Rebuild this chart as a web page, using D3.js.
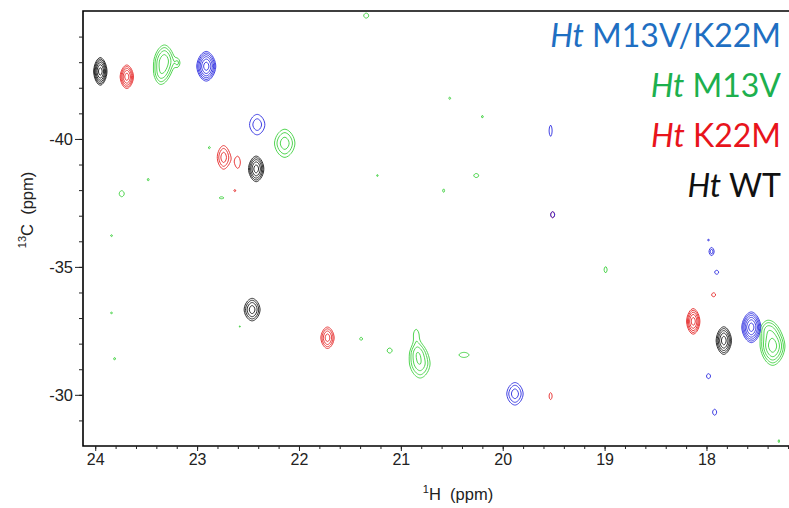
<!DOCTYPE html>
<html><head><meta charset="utf-8">
<script src="https://cdn.jsdelivr.net/npm/d3@7"></script>
<style>body{margin:0;background:#fff}svg{display:block}text{white-space:pre}</style>
</head><body>
<svg id="c" width="789" height="508"></svg>
<script>
// ---- axes data ----
const hDomain = [24.12, 17.19];     // 1H ppm (left -> right)
const cDomain = [-45, -28];         // 13C ppm (top -> bottom)
const xMajor = [24, 23, 22, 21, 20, 19, 18];
const yMajor = [-40, -35, -30];
const xMinor = d3.range(0, 36).map(i => +(24 - i * 0.2).toFixed(1)).filter(v => v >= 17.2);
const yMinor = d3.range(-44, -28, 1);

// ---- peak lists: [1H ppm, 13C ppm, outer half-width 1H, outer half-width 13C, contour levels] ----
const wtPeaks = [
  [23.95, -42.64, 0.065, 0.54, 6],
  [22.42, -38.83, 0.075, 0.50, 5],
  [22.46, -33.33, 0.078, 0.44, 4],
  [17.83, -32.12, 0.075, 0.54, 5]
];
const k22mPeaks = [
  [23.69, -42.43, 0.065, 0.46, 5],
  [22.74, -39.28, 0.062, 0.46, 3],
  [22.60, -39.08, 0.024, 0.22, 1],
  [21.72, -32.23, 0.065, 0.42, 4],
  [18.13, -32.87, 0.065, 0.50, 5],
  [17.93, -33.91, 0.020, 0.08, 1],
  [19.53, -29.95, 0.015, 0.14, 1],
  [19.51, -37.04, 0.020, 0.12, 1],
  [22.63, -37.98, 0.010, 0.04, 1]
];
const m13vPeaks = [
  [23.32, -43.05, 0.095, 0.62, 4],
  [23.36, -42.55, 0.050, 0.35, 2],
  [23.19, -42.97, 0.015, 0.10, 1],
  [22.14, -39.83, 0.100, 0.55, 3],
  [22.88, -39.66, 0.010, 0.05, 1],
  [23.48, -38.41, 0.010, 0.05, 1],
  [23.74, -37.86, 0.025, 0.12, 1],
  [22.76, -37.70, 0.025, 0.04, 1],
  [23.84, -36.22, 0.010, 0.04, 1],
  [23.84, -33.20, 0.010, 0.04, 1],
  [23.81, -31.41, 0.010, 0.05, 1],
  [22.58, -32.67, 0.008, 0.03, 1],
  [21.34, -44.82, 0.025, 0.10, 1],
  [20.52, -41.59, 0.010, 0.05, 1],
  [20.20, -40.87, 0.010, 0.05, 1],
  [21.23, -38.57, 0.008, 0.04, 1],
  [20.26, -38.57, 0.025, 0.08, 1],
  [20.58, -37.98, 0.010, 0.07, 1],
  [18.99, -34.89, 0.015, 0.12, 1],
  [21.39, -32.19, 0.015, 0.06, 1],
  [21.11, -31.73, 0.025, 0.10, 1],
  [20.85, -32.38, 0.020, 0.16, 1],
  [20.81, -31.21, 0.095, 0.55, 3],
  [20.84, -31.65, 0.050, 0.30, 2],
  [20.38, -31.56, 0.050, 0.10, 1],
  [17.35, -31.90, 0.120, 0.75, 5],
  [17.40, -32.55, 0.060, 0.30, 2],
  [17.29, -28.19, 0.008, 0.06, 1]
];
const dblPeaks = [
  [22.91, -42.84, 0.093, 0.58, 6],
  [22.41, -40.56, 0.075, 0.40, 2],
  [19.53, -40.32, 0.015, 0.22, 1],
  [19.51, -37.04, 0.020, 0.12, 1],
  [17.98, -36.05, 0.008, 0.04, 1],
  [17.95, -35.60, 0.025, 0.16, 2],
  [17.90, -34.79, 0.020, 0.08, 1],
  [17.56, -32.64, 0.093, 0.60, 6],
  [17.98, -30.73, 0.020, 0.10, 1],
  [17.92, -29.32, 0.020, 0.12, 1],
  [19.88, -30.04, 0.080, 0.44, 3]
];

// legend
const legendNames = ["M13V/K22M", "M13V", "K22M", "WT"];
const legendColors = ["#1f6fc2", "#1db04e", "#e8141c", "#111111"];
const seriesPeaks = [m13vPeaks, k22mPeaks, dblPeaks, wtPeaks];
const seriesColors = ["#3fd03f", "#e52a2a", "#2e2ee0", "#1a1a1a"];

// ---- layout ----
const pL = 83, pT = 11, pB = 446, pR = 789;
const x = d3.scaleLinear().domain(hDomain).range([pL, pR]);
const y = d3.scaleLinear().domain(cDomain).range([pT, pB]);

const svg = d3.select("#c");
svg.append("defs").append("clipPath").attr("id", "clip")
  .append("rect").attr("x", pL).attr("y", pT).attr("width", pR - pL).attr("height", pB - pT);

// ---- contours ----
const nx = 700, ny = 436;
const dh = (hDomain[1] - hDomain[0]) / (nx - 1);
const dc = (cDomain[1] - cDomain[0]) / (ny - 1);
const K = 1.45, P = 1.75;
const thresholds = d3.range(9).map(i => Math.pow(K, i));

function buildGrid(peaks) {
  const v = new Float64Array(nx * ny);
  for (const [h, c, hw, cw, n] of peaks) {
    const lnA = (n - 1) * Math.log(K) + Math.log(1.25);
    const s = Math.pow(lnA, 1 / P);
    const wh = hw / s, wc = cw / s, A = Math.exp(lnA);
    const ia = (h - 4 * wh - hDomain[0]) / dh, ib = (h + 4 * wh - hDomain[0]) / dh;
    const ja = (c - 4 * wc - cDomain[0]) / dc, jb = (c + 4 * wc - cDomain[0]) / dc;
    const i0 = Math.max(0, Math.floor(Math.min(ia, ib))), i1 = Math.min(nx - 1, Math.ceil(Math.max(ia, ib)));
    const j0 = Math.max(0, Math.floor(Math.min(ja, jb))), j1 = Math.min(ny - 1, Math.ceil(Math.max(ja, jb)));
    for (let j = j0; j <= j1; j++) {
      const vv = Math.pow(Math.abs((cDomain[0] + j * dc - c) / wc), P);
      for (let i = i0; i <= i1; i++) {
        const uu = Math.pow(Math.abs((hDomain[0] + i * dh - h) / wh), P);
        v[j * nx + i] += A * Math.exp(-(uu + vv));
      }
    }
  }
  return v;
}

const proj = d3.geoTransform({
  point(gx, gy) {
    this.stream.point(x(hDomain[0] + (gx - 0.5) * dh), y(cDomain[0] + (gy - 0.5) * dc));
  }
});
const path = d3.geoPath(proj);

const gc = svg.append("g").attr("clip-path", "url(#clip)");
seriesPeaks.forEach((peaks, k) => {
  const grid = buildGrid(peaks);
  const cs = d3.contours().size([nx, ny]).thresholds(thresholds)(grid);
  gc.append("g").selectAll("path").data(cs).join("path")
    .attr("d", path).attr("fill", "none")
    .attr("stroke", seriesColors[k]).attr("stroke-width", 0.9);
});

// ---- frame ----
svg.append("path")
  .attr("d", `M${pR + 5},${pT}H${pL}V${pB}H${pR + 5}`)
  .attr("fill", "none").attr("stroke", "#000").attr("stroke-width", 1.6);

// ---- axes ----
const fontAxis = "'Liberation Sans', Arial, sans-serif";
const gx = svg.append("g").attr("transform", `translate(0,${pB})`);
gx.call(d3.axisBottom(x).tickValues(xMinor).tickSize(3).tickFormat(""));
gx.append("g").call(d3.axisBottom(x).tickValues(xMajor).tickSize(5).tickPadding(3).tickFormat(d => String(d)));
gx.selectAll(".domain").remove();
gx.selectAll("text").attr("font-size", 16).attr("font-family", fontAxis).attr("fill", "#222");
gx.selectAll("line").attr("stroke", "#222");

const gy = svg.append("g").attr("transform", `translate(${pL},0)`);
gy.call(d3.axisLeft(y).tickValues(yMinor).tickSize(4).tickFormat(""));
gy.append("g").call(d3.axisLeft(y).tickValues(yMajor).tickSize(8).tickPadding(2).tickFormat(d => String(d)));
gy.selectAll(".domain").remove();
gy.selectAll("text").attr("font-size", 16.5).attr("font-family", fontAxis).attr("fill", "#222");
gy.selectAll("line").attr("stroke", "#222");

// axis titles
const xt = svg.append("text").attr("x", 458).attr("y", 500).attr("text-anchor", "middle")
  .attr("font-family", fontAxis).attr("font-size", 16.5).attr("fill", "#222");
xt.append("tspan").attr("font-size", 11).attr("dy", -7).text("1");
xt.append("tspan").attr("dy", 7).text("H\u00a0\u00a0(ppm)");

const yt = svg.append("text").attr("transform", "translate(33,210) rotate(-90)").attr("text-anchor", "middle")
  .attr("font-family", fontAxis).attr("font-size", 16.5).attr("fill", "#222");
yt.append("tspan").attr("font-size", 11).attr("dy", -7).text("13");
yt.append("tspan").attr("dy", 7).text("C\u00a0\u00a0(ppm)");

// ---- legend ----
legendNames.forEach((nm, i) => {
  const t = svg.append("text").attr("x", 781).attr("y", 47 + i * 50).attr("text-anchor", "end")
    .attr("font-family", "Lato, 'Open Sans', sans-serif").attr("font-size", 32).attr("fill", legendColors[i]);
  t.append("tspan").attr("font-style", "italic").text("Ht");
  t.append("tspan").text("\u00a0" + nm);
});
</script>
</body></html>
